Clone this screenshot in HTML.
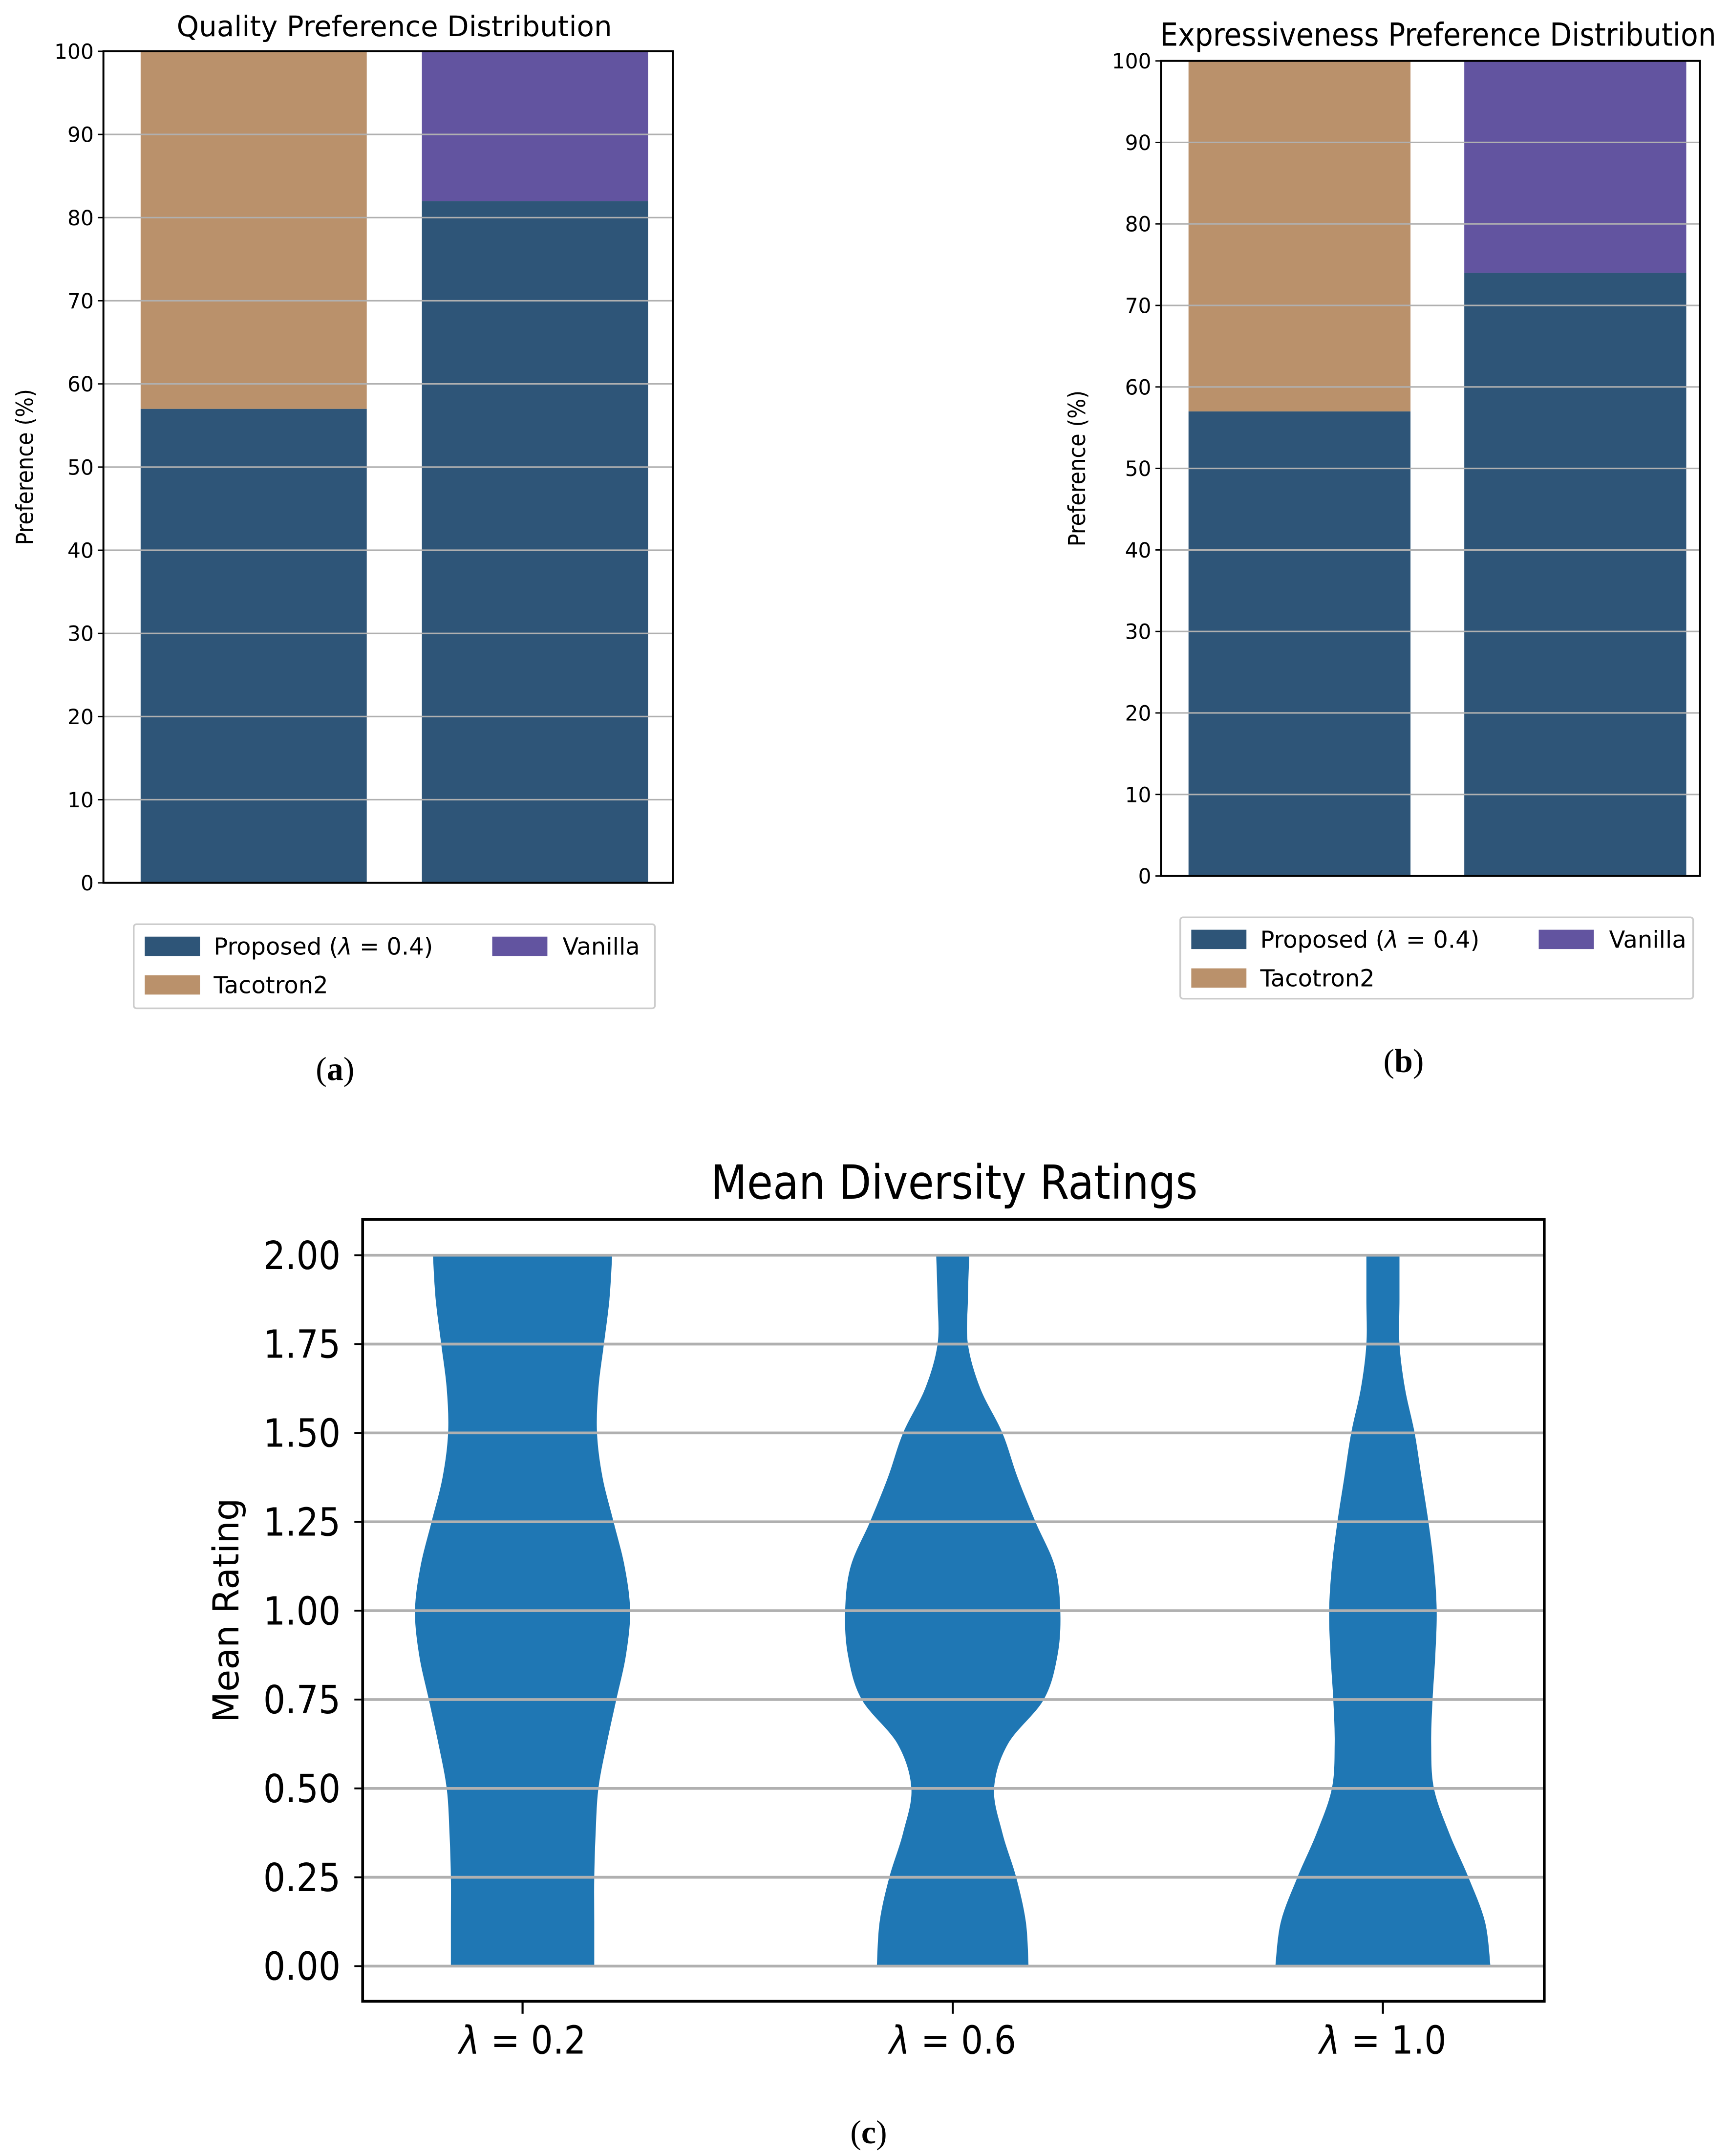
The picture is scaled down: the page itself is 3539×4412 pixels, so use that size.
<!DOCTYPE html>
<html><head><meta charset="utf-8"><style>
html,body{margin:0;padding:0;background:#fff}
svg{display:block}
text{font-family:"DejaVu Sans","Liberation Sans",sans-serif;fill:#000}
.cond{font-stretch:condensed}
.cap{font-family:"Liberation Serif","DejaVu Serif",serif}
</style></head><body>
<svg id="fig" width="3539" height="4412" viewBox="0 0 1254 1563" xmlns="http://www.w3.org/2000/svg">
<g id="pa"></g>
<g id="pb"></g>
<g id="pc"></g>
</svg>
<script>
// ---- data ----
const barCategories = ["vs Tacotron2", "vs Vanilla"];
const qualityProposed = [57, 82];
const qualityOther = [43, 18];
const exprProposed = [57, 74];
const exprOther = [43, 26];
const barTicks = [0,10,20,30,40,50,60,70,80,90,100];
const violinLabels = ["λ = 0.2","λ = 0.6","λ = 1.0"];
const violinYs = [0,0.125,0.25,0.375,0.5,0.625,0.75,0.875,1,1.125,1.25,1.375,1.5,1.625,1.75,1.875,2];
const violin1 = [52,52,52,53,55,61,68,75,78,74,66,58,54,55,59,63,65];
const violin2 = [55,53,46,36,30,40,66,76,78,74,60,47,36,20,11,11,12];
const violin3 = [78,74,62,48,37,35,36,38,39,37,33,28,23,16,12,12,12];
const violinTicks = [0,0.25,0.5,0.75,1,1.25,1.5,1.75,2];
const tickFmt = ["0.00","0.25","0.50","0.75","1.00","1.25","1.50","1.75","2.00"];

const NS="http://www.w3.org/2000/svg";
function mk(parent,tag,attrs,txt){const e=document.createElementNS(NS,tag);for(const k in attrs)e.setAttribute(k,attrs[k]);if(txt!==undefined)e.textContent=txt;parent.appendChild(e);return e;}

function barPanel(g,o){
  const y=v=>o.bottom-(o.bottom-o.top)*v/100;
  const bw=o.barW;
  for(let i=0;i<barCategories.length;i++){
    const x=o.barX[i];
    const r1=mk(g,'rect',{x:x,y:y(o.prop[i]),width:bw,height:y(0)-y(o.prop[i]),fill:'#2e5578'});
    
    
    const r2=mk(g,'rect',{x:x,y:y(o.prop[i]+o.other[i]),width:bw,height:y(o.prop[i])-y(o.prop[i]+o.other[i]),fill:i===0?'#ba916b':'#6254a0'});
    
    
  }
  barTicks.forEach(t=>{
    if(t>0&&t<100){const l=mk(g,'line',{x1:o.left,x2:o.right,y1:y(t),y2:y(t),stroke:'#b0b0b0','stroke-width':1.1});
    
    }
    mk(g,'line',{x1:o.left-4,x2:o.left,y1:y(t),y2:y(t),stroke:'#000','stroke-width':1});
    const tx=mk(g,'text',{x:o.left-7,y:y(t)+5.5,'font-size':15,'text-anchor':'end'},String(t));
    
    
  });
  mk(g,'rect',{x:o.left,y:o.top,width:o.right-o.left,height:o.bottom-o.top,fill:'none',stroke:'#000','stroke-width':1.4});
  const tt=mk(g,'text',{x:o.titleX,y:o.titleY,'font-size':o.titleFs,'text-anchor':'middle',class:o.titleCls||''},o.title);
  
  
  const yl=mk(g,'text',{x:0,y:0,'font-size':17,'text-anchor':'middle',class:'cond',transform:`translate(${o.ylX},${(o.top+o.bottom)/2}) rotate(-90)`},'Preference (%)');
  
  
  const L=o.leg;
  const lg=mk(g,'g',{});
  
  
  mk(lg,'rect',{x:L.x,y:L.y,width:L.w,height:L.h,fill:'#fff',stroke:'#ccc','stroke-width':1.2,rx:2});
  const ents=[['Proposed (',L.x+8,L.y+9,'#2e5578'],['Tacotron2',L.x+8,L.y+37,'#ba916b'],['Vanilla',L.x+260,L.y+9,'#6254a0']];
  ents.forEach(e=>{
    const eg=mk(lg,'g',{});
    
    
    mk(eg,'rect',{x:e[1],y:e[2],width:40,height:14,fill:e[3]});
    const t=mk(eg,'text',{x:e[1]+(e[0]==='Vanilla'?51:50),y:e[2]+13,'font-size':17});
    if(e[0]==='Proposed ('){t.textContent='Proposed (';mk(t,'tspan',{'font-style':'italic'},'λ');mk(t,'tspan',{},' = 0.4)');}
    else t.textContent=e[0];
  });
  const cp=mk(g,'text',{x:o.capX,y:o.capY,'font-size':24,'text-anchor':'middle',class:'cap'});
  
  
  cp.textContent='(';mk(cp,'tspan',{'font-weight':'bold'},o.cap);mk(cp,'tspan',{},')');
}

barPanel(document.getElementById('pa'),{left:75,right:488,top:37,bottom:640,barX:[102,306],barW:164,prop:qualityProposed,other:qualityOther,
 title:'Quality Preference Distribution',titleX:286,titleY:26,titleFs:20.5,ylX:24,leg:{x:97,y:670,w:378,h:61},capX:243,capY:783,cap:'a'});
barPanel(document.getElementById('pb'),{left:842,right:1233,top:44,bottom:635,barX:[862,1062],barW:161,prop:exprProposed,other:exprOther,
 title:'Expressiveness Preference Distribution',titleX:1043,titleY:33,titleFs:23,titleCls:'cond',ylX:787,leg:{x:856,y:665,w:372,h:59},capX:1018,capY:777,cap:'b'});

// ---- violin panel ----
(function(){
  const g=document.getElementById('pc');
  const L=263,R=1120,T=884,B=1451;
  const y=v=>1425.5-(1425.5-910)*v/2;
  const xc=[379,691,1003];
  const sets=[violin1,violin2,violin3];
  function smooth(pts){
    let d='M'+pts[0][0]+','+pts[0][1];
    for(let i=0;i<pts.length-1;i++){
      const p0=pts[Math.max(0,i-1)],p1=pts[i],p2=pts[i+1],p3=pts[Math.min(pts.length-1,i+2)];
      const c1=[p1[0]+(p2[0]-p0[0])/6,p1[1]+(p2[1]-p0[1])/6],c2=[p2[0]-(p3[0]-p1[0])/6,p2[1]-(p3[1]-p1[1])/6];
      d+=` C${c1[0]},${c1[1]} ${c2[0]},${c2[1]} ${p2[0]},${p2[1]}`;
    }
    return d;
  }
  sets.forEach((w,k)=>{
    const right=violinYs.map((v,i)=>[xc[k]+w[i],y(v)]);
    const left=violinYs.map((v,i)=>[xc[k]-w[i],y(v)]).reverse();
    let d=smooth(right);
    d+=' L'+left[0][0]+','+left[0][1]+smooth(left).replace(/^M[^ C]+/,'')+' Z';
    const p=mk(g,'path',{d:d,fill:'#1f77b4'});
    
    
  });
  violinTicks.forEach((t,i)=>{
    const l=mk(g,'line',{x1:L,x2:R,y1:y(t),y2:y(t),stroke:'#b0b0b0','stroke-width':2});
    
    
    mk(g,'line',{x1:L-6,x2:L,y1:y(t),y2:y(t),stroke:'#000','stroke-width':1.3});
    const tx=mk(g,'text',{x:L-16,y:y(t)+10,'font-size':28,'text-anchor':'end',class:'cond'},tickFmt[i]);
    
    
  });
  mk(g,'rect',{x:L,y:T,width:R-L,height:B-T,fill:'none',stroke:'#000','stroke-width':2});
  violinLabels.forEach((s,i)=>{
    mk(g,'line',{x1:xc[i],x2:xc[i],y1:B,y2:B+9,stroke:'#000','stroke-width':1.5});
    const t=mk(g,'text',{x:xc[i],y:B+38,'font-size':28,'text-anchor':'middle',class:'cond'});
    
    
    const parts=s.split(' = ');
    mk(t,'tspan',{'font-style':'italic'},parts[0]);mk(t,'tspan',{},' = '+parts[1]);
  });
  const tt=mk(g,'text',{x:692,y:869,'font-size':34,'text-anchor':'middle',class:'cond'},'Mean Diversity Ratings');
  
  
  const yl=mk(g,'text',{x:0,y:0,'font-size':26,'text-anchor':'middle',transform:`translate(173,${(T+B)/2}) rotate(-90)`},'Mean Rating');
  
  
  const cp=mk(g,'text',{x:630,y:1554,'font-size':24,'text-anchor':'middle',class:'cap'});
  
  
  cp.textContent='(';mk(cp,'tspan',{'font-weight':'bold'},'c');mk(cp,'tspan',{},')');
})();
</script>
</body></html>
